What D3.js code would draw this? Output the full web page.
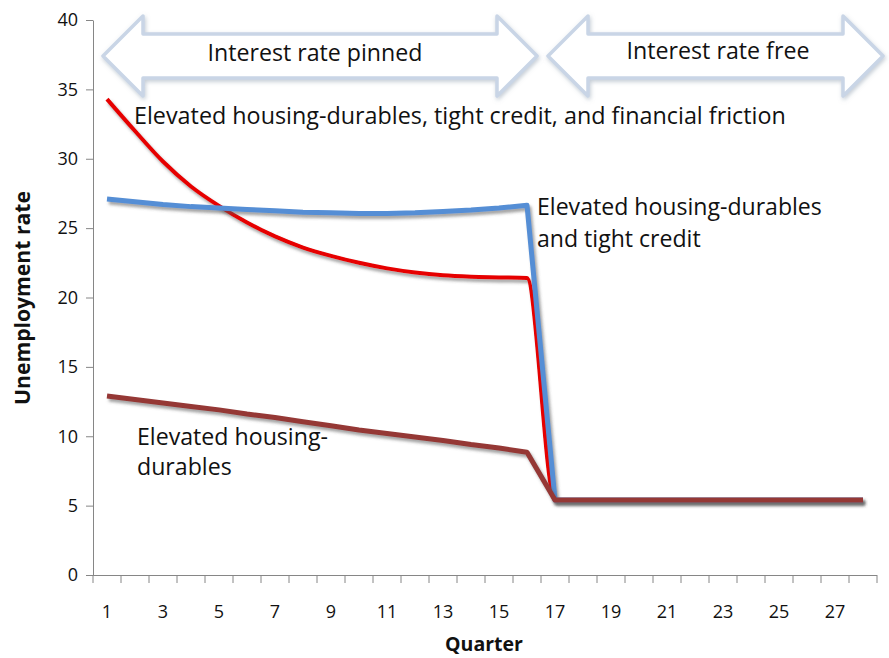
<!DOCTYPE html>
<html><head><meta charset="utf-8">
<script src="https://cdn.jsdelivr.net/npm/d3@7"></script>
<style>
html,body{margin:0;padding:0;background:#fff;}
svg{display:block;font-family:"Open Sans",Lato,sans-serif;}
</style></head>
<body>
<svg id="chart" width="889" height="658"></svg>
<script>
const quarters = d3.range(1, 29);
const frictionSeries = [34.3, 32.0, 29.8, 28.0, 26.6, 25.4, 24.4, 23.6, 23.0, 22.5, 22.1, 21.8, 21.6, 21.5, 21.45, 21.4,
  5.4, 5.4, 5.4, 5.4, 5.4, 5.4, 5.4, 5.4, 5.4, 5.4, 5.4, 5.4];
const creditSeries = [27.1, 26.9, 26.7, 26.55, 26.45, 26.35, 26.25, 26.15, 26.1, 26.05, 26.05, 26.1, 26.2, 26.3, 26.45, 26.65,
  5.4, 5.4, 5.4, 5.4, 5.4, 5.4, 5.4, 5.4, 5.4, 5.4, 5.4, 5.4];
const housingSeries = [12.9, 12.65, 12.4, 12.15, 11.9, 11.6, 11.35, 11.05, 10.75, 10.45, 10.2, 9.95, 9.7, 9.4, 9.15, 8.85,
  5.4, 5.4, 5.4, 5.4, 5.4, 5.4, 5.4, 5.4, 5.4, 5.4, 5.4, 5.4];
const yTicks = [0, 5, 10, 15, 20, 25, 30, 35, 40];
const xTickLabels = quarters.filter(q => q % 2 === 1);
const seriesNames = ["Elevated housing-durables, tight credit, and financial friction",
  "Elevated housing-durables and tight credit", "Elevated housing-durables"];
const regimeLabels = ["Interest rate pinned", "Interest rate free"];

(function () {
const svg = d3.select("#chart");
const pL = 93, pR = 877, pT = 20, pB = 575;
const FONT = '"Open Sans",Lato,sans-serif';

const x = d3.scaleBand().domain(quarters).range([pL, pR]);
const xc = q => x(q) + x.bandwidth() / 2;
const y = d3.scaleLinear().domain([0, 40]).range([pB, pT]);

function fit(sel, width) {
  const n = sel.node();
  const fs = +sel.attr("font-size");
  const w = n.getComputedTextLength();
  if (w > 0) sel.attr("font-size", (fs * width / w).toFixed(2));
  return sel;
}

const defs = svg.append("defs");
const f = defs.append("filter").attr("id", "shadow").attr("x", "-10%").attr("y", "-10%").attr("width", "130%").attr("height", "140%");
f.append("feDropShadow").attr("dx", 2).attr("dy", 3).attr("stdDeviation", 1.6).attr("flood-color", "#555").attr("flood-opacity", 0.55);
const g2 = defs.append("filter").attr("id", "glow").attr("x", "-10%").attr("y", "-20%").attr("width", "120%").attr("height", "140%");
g2.append("feDropShadow").attr("dx", 1).attr("dy", 2).attr("stdDeviation", 2).attr("flood-color", "#8899aa").attr("flood-opacity", 0.5);

// axes
const yAxis = d3.axisLeft(y).tickValues(yTicks).tickSize(7).tickPadding(8).tickSizeOuter(0);
const yg = svg.append("g").attr("transform", `translate(${pL},0)`).call(yAxis);
yg.select(".domain").attr("stroke", "#868686");
yg.selectAll(".tick line").attr("stroke", "#868686");
yg.selectAll(".tick text").attr("font-size", 18).attr("fill", "#111").attr("font-family", FONT);

const xAxis = d3.axisBottom(x).tickValues([]).tickSizeOuter(0);
const xg = svg.append("g").attr("transform", `translate(0,${pB})`).call(xAxis);
xg.select(".domain").attr("stroke", "#868686").attr("d", `M${pL},0.5H${pR}`);
xg.selectAll(".bt").data(quarters.concat([29])).enter().append("line")
  .attr("x1", q => q <= 28 ? x(q) : pR).attr("x2", q => q <= 28 ? x(q) : pR)
  .attr("y1", 0).attr("y2", 8).attr("stroke", "#868686");
xg.selectAll(".lbl").data(xTickLabels).enter().append("text")
  .attr("x", q => xc(q)).attr("y", 43).attr("text-anchor", "middle").attr("font-family", FONT)
  .attr("font-size", 18).attr("fill", "#111").text(q => q);

fit(svg.append("text").attr("x", 484).attr("y", 651).attr("text-anchor", "middle")
  .attr("font-size", 18).attr("font-weight", "bold").attr("fill", "#111").text("Quarter"), 78);
fit(svg.append("text").attr("transform", "translate(30,298) rotate(-90)").attr("text-anchor", "middle")
  .attr("font-size", 18).attr("font-weight", "bold").attr("fill", "#111").text("Unemployment rate"), 214);

// regime arrows
function dblArrow(x0, x1, yc) {
  const hh = 40, sh = 22, hw = 40;
  return `M${x0},${yc} L${x0 + hw},${yc - hh} L${x0 + hw},${yc - sh} L${x1 - hw},${yc - sh} L${x1 - hw},${yc - hh} L${x1},${yc} L${x1 - hw},${yc + hh} L${x1 - hw},${yc + sh} L${x0 + hw},${yc + sh} L${x0 + hw},${yc + hh} Z`;
}
const arrows = [[xc(1) - 4, xc(16) + 10], [xc(17) - 7, pR + 6]];
arrows.forEach(a => {
  svg.append("path").attr("d", dblArrow(a[0], a[1], 56)).attr("fill", "#fff")
    .attr("stroke", "#c9d5e6").attr("stroke-width", 3.5).attr("stroke-linejoin", "round").attr("filter", "url(#glow)");
});
fit(svg.append("text").attr("x", 315).attr("y", 61).attr("text-anchor", "middle").attr("font-size", 20).attr("fill", "#111").text(regimeLabels[0]), 215);
fit(svg.append("text").attr("x", 718).attr("y", 59).attr("text-anchor", "middle").attr("font-size", 20).attr("fill", "#111").text(regimeLabels[1]), 183);

// lines
const lineLin = d3.line().x((d, i) => xc(quarters[i])).y(d => y(d));
const lineSmooth = d3.line().x((d, i) => xc(quarters[i])).y(d => y(d)).curve(d3.curveMonotoneX);
const series = [
  {v: frictionSeries, c: "#e60000", w: 4, gen: lineSmooth},
  {v: creditSeries, c: "#558ed5", w: 5, gen: lineLin},
  {v: housingSeries, c: "#953735", w: 5, gen: lineLin}
];
series.forEach(s => {
  svg.append("path").datum(s.v).attr("d", s.gen).attr("fill", "none").attr("stroke", s.c)
    .attr("stroke-width", s.w).attr("stroke-linejoin", "round").attr("filter", "url(#shadow)");
});

// series labels
fit(svg.append("text").attr("x", 134).attr("y", 124).attr("font-size", 20).attr("fill", "#111").text(seriesNames[0]), 652);
const a1 = fit(svg.append("text").attr("x", 537).attr("y", 215).attr("font-size", 20).attr("fill", "#111").text("Elevated housing-durables"), 285);
svg.append("text").attr("x", 537).attr("y", 247).attr("font-size", a1.attr("font-size")).attr("fill", "#111").text("and tight credit");
const b1 = fit(svg.append("text").attr("x", 137).attr("y", 445).attr("font-size", 20).attr("fill", "#111").text("Elevated housing-"), 191);
svg.append("text").attr("x", 137).attr("y", 475).attr("font-size", b1.attr("font-size")).attr("fill", "#111").text("durables");
})();
</script>
</body></html>
